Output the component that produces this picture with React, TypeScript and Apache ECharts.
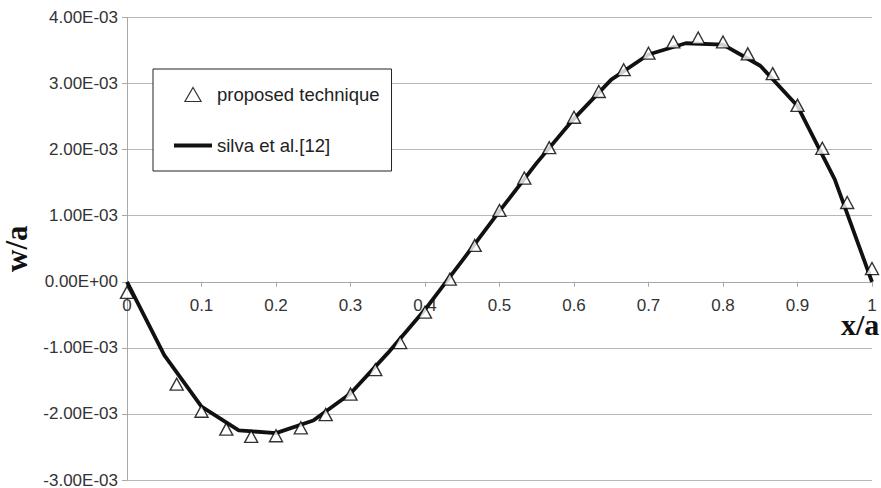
import React, { useEffect, useRef } from "react";
import * as echarts from "echarts";

const proposedX = [0, 0.0667, 0.1, 0.1333, 0.1667, 0.2, 0.2333, 0.2667, 0.3, 0.3333, 0.3667, 0.4, 0.4333, 0.4667, 0.5, 0.5333, 0.5667, 0.6, 0.6333, 0.6667, 0.7, 0.7333, 0.7667, 0.8, 0.8333, 0.8667, 0.9, 0.9333, 0.9667, 1];
const proposedW = [-0.16e-3, -1.55e-3, -1.96e-3, -2.23e-3, -2.34e-3, -2.33e-3, -2.21e-3, -2.01e-3, -1.7e-3, -1.33e-3, -0.92e-3, -0.46e-3, 0.04e-3, 0.55e-3, 1.08e-3, 1.57e-3, 2.03e-3, 2.49e-3, 2.88e-3, 3.21e-3, 3.46e-3, 3.63e-3, 3.69e-3, 3.63e-3, 3.45e-3, 3.15e-3, 2.67e-3, 2.02e-3, 1.2e-3, 0.2e-3];

const silvaX = [0, 0.05, 0.1, 0.15, 0.2, 0.25, 0.3, 0.35, 0.4, 0.45, 0.5, 0.55, 0.6, 0.65, 0.7, 0.75, 0.8, 0.85, 0.9, 0.95, 1];
const silvaW = [0, -1.11e-3, -1.89e-3, -2.25e-3, -2.29e-3, -2.1e-3, -1.69e-3, -1.08e-3, -0.42e-3, 0.32e-3, 1.07e-3, 1.8e-3, 2.47e-3, 3.06e-3, 3.44e-3, 3.61e-3, 3.59e-3, 3.27e-3, 2.66e-3, 1.55e-3, 0];

const seriesNames = ["proposed technique", "silva et al.[12]"];
const xTitle = "x/a";
const yTitle = "w/a";

function sci(v: number): string {
  if (Math.abs(v) < 1e-12) return "0.00E+00";
  const s = v.toExponential(2).toUpperCase();
  const [m, e] = s.split("E");
  const sign = e[0] === "-" ? "-" : "+";
  const digits = e.replace(/[+-]/, "").padStart(2, "0");
  return `${m}E${sign}${digits}`;
}

export default function App() {
  const ref = useRef<HTMLDivElement>(null);
  useEffect(() => {
    if (!ref.current) return;
    const chart = echarts.init(ref.current, null, { renderer: "svg" });
    const gray = "#a8a8a8";
    const gridTop = 17.5;
    const gridBottom = 8;
    const plotH = 488 - gridTop - gridBottom;
    const yMin = -0.003;
    const yMax = 0.004;
    const zeroFromBottom = (0 - yMin) / (yMax - yMin) * plotH;
    chart.setOption({
      animation: false,
      backgroundColor: "#ffffff",
      textStyle: { fontFamily: "Liberation Sans, Arial, sans-serif" },
      grid: { left: 127, right: 9, top: gridTop, bottom: gridBottom, containLabel: false, outerBoundsMode: "none" },
      legend: {
        left: 153,
        top: 69,
        orient: "vertical",
        data: [
          { name: seriesNames[0], icon: "path://M7.5,0L15,13H0Z", itemStyle: { color: "#fff", borderColor: "#000", borderWidth: 1.2 } },
          { name: seriesNames[1], icon: "path://M0,0H38V4H0Z", itemStyle: { color: "#111", borderWidth: 0 } },
        ],
        symbolKeepAspect: true,
        itemWidth: 38,
        itemHeight: 14,
        itemGap: 32,
        padding: [16, 12, 16, 21],
        borderColor: "#222",
        borderWidth: 1,
        backgroundColor: "#fff",
        textStyle: { fontSize: 18.5, color: "#222", fontFamily: "Liberation Sans, Arial, sans-serif" },
      },
      xAxis: {
        type: "value",
        min: 0,
        max: 1,
        interval: 0.1,
        offset: -zeroFromBottom,
        axisLine: { show: true, onZero: false, lineStyle: { color: gray, width: 1 } },
        axisTick: { show: true, length: 5, lineStyle: { color: gray } },
        axisLabel: { fontSize: 17, color: "#333", margin: 15 },
        splitLine: { show: false },
      },
      yAxis: {
        type: "value",
        min: yMin,
        max: yMax,
        interval: 0.001,
        name: yTitle,
        nameLocation: "middle",
        nameRotate: 90,
        nameGap: 92,
        nameTextStyle: { fontFamily: "Liberation Serif, Times New Roman, serif", fontWeight: "bold", fontSize: 31, color: "#111" },
        axisLine: { show: true, onZero: false, lineStyle: { color: gray, width: 1 } },
        axisTick: { show: true, length: 5, lineStyle: { color: gray } },
        axisLabel: { fontSize: 17, color: "#333", margin: 9, formatter: (v: number) => sci(v) },
        splitLine: { show: true, lineStyle: { color: "#b8b8b8", width: 1 } },
      },
      graphic: [
        {
          type: "text",
          left: 841,
          top: 309,
          style: {
            text: xTitle,
            font: "bold 30px 'Liberation Serif', 'Times New Roman', serif",
            fill: "#111",
          },
        },
      ],
      series: [
        {
          name: seriesNames[1],
          type: "line",
          data: silvaX.map((x, i) => [x, silvaW[i]]),
          symbol: "none",
          showSymbol: false,
          lineStyle: { color: "#111", width: 3.8 },
          itemStyle: { color: "#111" },
          z: 2,
        },
        {
          name: seriesNames[0],
          type: "scatter",
          data: proposedX.map((x, i) => [x, proposedW[i]]),
          symbol: "triangle",
          symbolSize: [13, 12],
          itemStyle: { color: "#fff", borderColor: "#000", borderWidth: 1.4 },
          z: 3,
        },
      ],
    });
    return () => chart.dispose();
  }, []);
  return <div ref={ref} style={{ position: "fixed", left: 0, top: 0, width: 881, height: 488 }} />;
}
